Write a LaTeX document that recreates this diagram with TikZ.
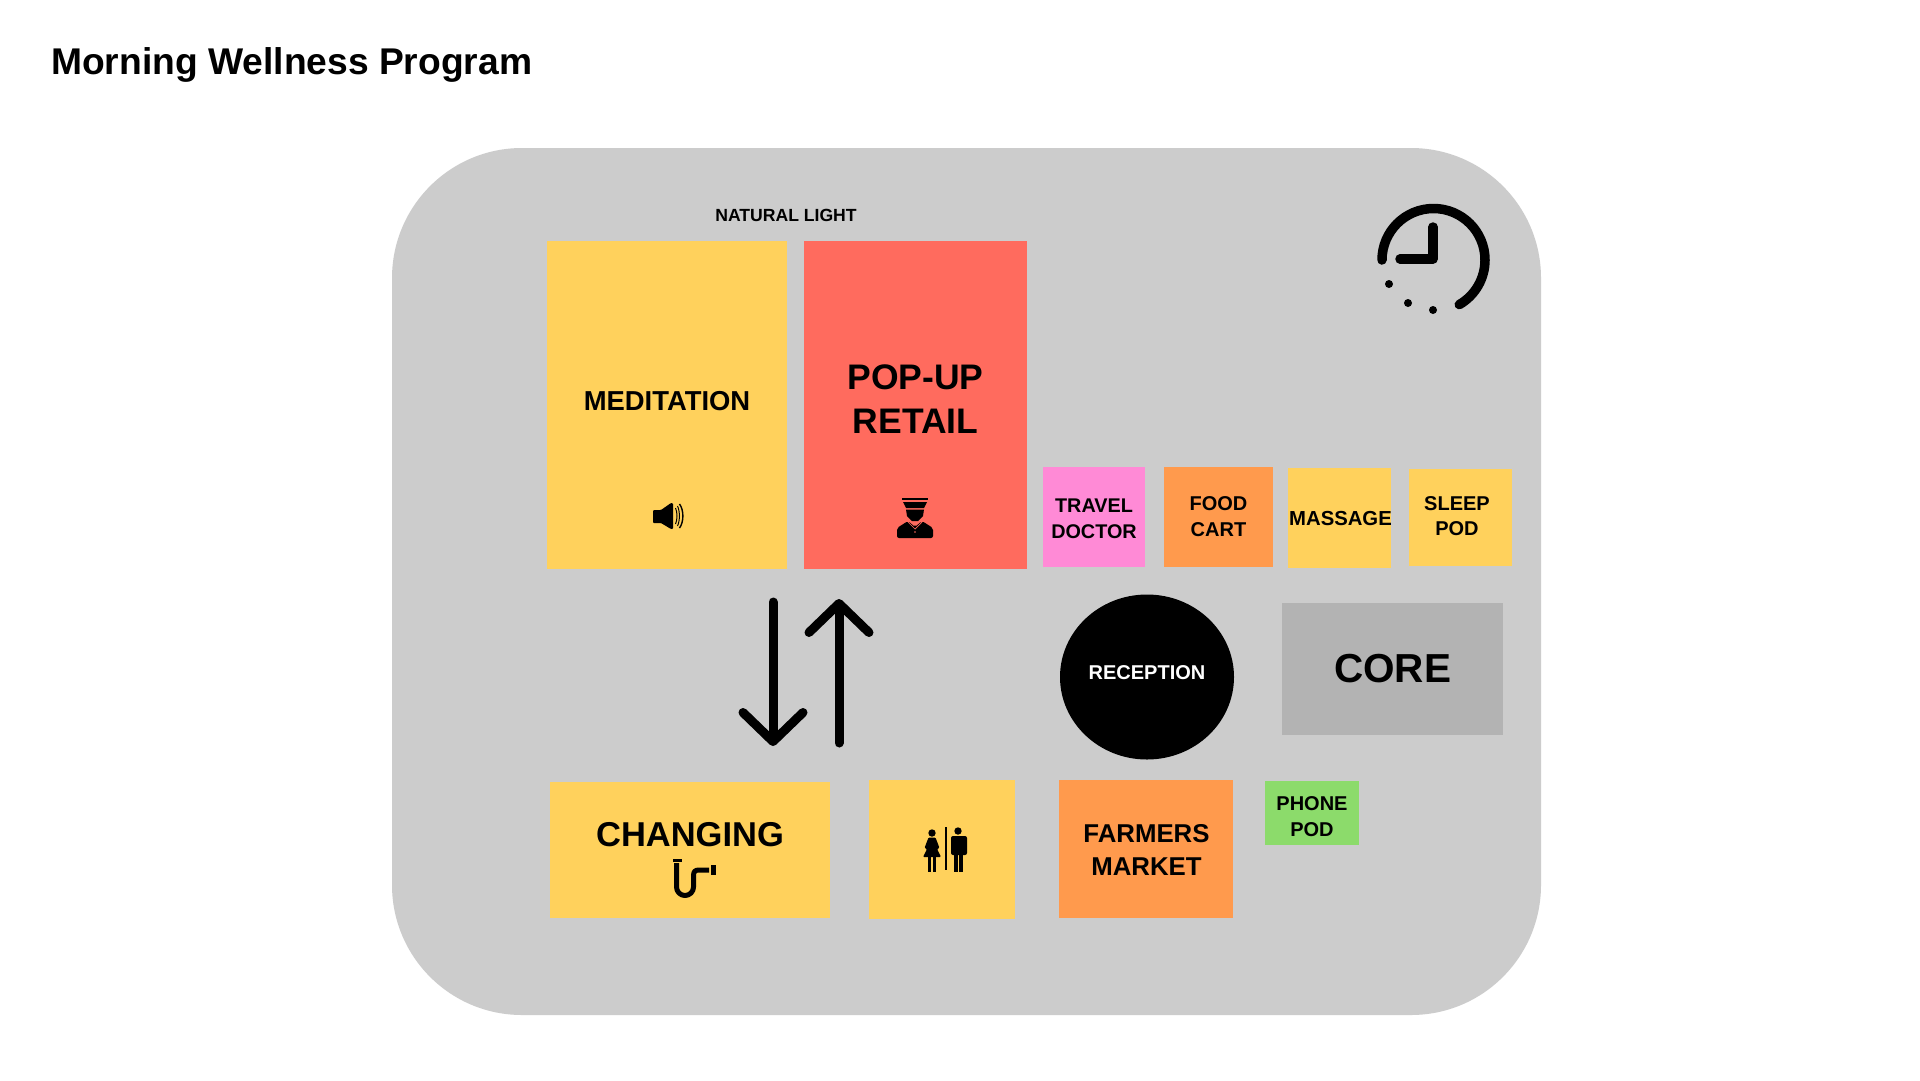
\documentclass[tikz,border=0pt]{standalone}
\usepackage{fontspec}
\setmainfont{Liberation Sans}
\usepackage{tikz}
\usetikzlibrary{arrows.meta,shapes.geometric}

\definecolor{panelgray}{HTML}{CCCCCC}
\definecolor{coregray}{HTML}{B3B3B3}
\definecolor{roomyellow}{HTML}{FFD15C}
\definecolor{roomred}{HTML}{FF6B5E}
\definecolor{roompink}{HTML}{FF8AD6}
\definecolor{roomorange}{HTML}{FF9A4D}
\definecolor{roomgreen}{HTML}{8CDB6B}

\begin{document}
\begin{tikzpicture}[
  x=1pt, y=-1pt,
  room/.style={rectangle, inner sep=0pt, align=center, text=black},
  lbl/.style={inner sep=0pt, align=center, font=\bfseries\fontsize{#1}{#1}\selectfont},
  lbl/.default=20,
  flow/.style={line width=9pt, line cap=round, -{Straight Barb[round, length=29pt, width=60pt]}},
  clockline/.style={line width=9.5pt, line cap=round, line join=round},
  pipeline/.style={line width=5pt, line join=round}
]
\path[fill=white, use as bounding box] (0,0) rectangle (1920,1080);

%% ---- title and floor ----
\node[lbl=37.2, anchor=base west] (title) at (51,74) {Morning Wellness Program};
\node[fill=panelgray, rectangle, rounded corners=130pt, minimum width=1149pt, minimum height=867pt] (floor) at (966.5,581.5) {};
\node[lbl=17.6] (light) at (786,215) {NATURAL LIGHT};

%% ---- rooms, top row ----
\node[room, fill=roomyellow, minimum width=240pt, minimum height=328pt] (meditation) at (667,405) {};
\node[lbl=27.4] at (667,401) {MEDITATION};
\node[room, fill=roomred, minimum width=223pt, minimum height=328pt] (retail) at (915.5,405) {};
\node[lbl, font=\bfseries\fontsize{35.5}{44}\selectfont] at (915.5,399) {POP-UP\\RETAIL};

%% ---- small rooms ----
\node[room, fill=roompink, minimum width=102pt, minimum height=100pt] (doctor) at (1094,517) {};
\node[lbl, font=\bfseries\fontsize{19.8}{26}\selectfont] at (1094,518.5) {TRAVEL\\DOCTOR};
\node[room, fill=roomorange, minimum width=109pt, minimum height=100pt, font=\bfseries\fontsize{20}{26}\selectfont] (cart) at (1218.5,517) {FOOD\\CART};
\node[room, fill=roomyellow, minimum width=103pt, minimum height=100pt] (massage) at (1339.5,518) {};
\node[lbl=20.3] at (1340.5,519) {MASSAGE};
\node[room, fill=roomyellow, minimum width=103pt, minimum height=97pt] (sleep) at (1460.5,517.5) {};
\node[lbl, font=\bfseries\fontsize{20}{25}\selectfont] at (1457,516) {SLEEP\\POD};

%% ---- middle row ----
\node[ellipse, fill=black, inner sep=0pt, minimum width=174pt, minimum height=165pt] (reception) at (1147,677) {};
\node[lbl=20, text=white] at (1147,673) {RECEPTION};
\node[room, fill=coregray, minimum width=221pt, minimum height=132pt, font=\bfseries\fontsize{40.5}{40.5}\selectfont] (core) at (1392.5,669) {CORE};

%% ---- bottom row ----
\node[room, fill=roomyellow, minimum width=280pt, minimum height=136pt] (changing) at (690,850) {};
\node[lbl=34.5] at (690,835) {CHANGING};
\node[room, fill=roomyellow, minimum width=146pt, minimum height=139pt] (toilets) at (941.5,849.5) {};
\node[room, fill=roomorange, minimum width=174pt, minimum height=138pt] (market) at (1146,849) {};
\node[lbl, font=\bfseries\fontsize{25.8}{33}\selectfont] at (1146.5,850) {FARMERS\\MARKET};
\node[room, fill=roomgreen, minimum width=94pt, minimum height=64pt] (phone) at (1312,813) {};
\node[lbl, font=\bfseries\fontsize{20}{26}\selectfont] at (1312,817) {PHONE\\POD};

%% ---- circulation arrows ----
\coordinate (downtop) at (773,602);
\coordinate (downtip) at (773,746);
\coordinate (uptip) at (839,599);
\coordinate (upend) at (839,743);
\draw[flow] (downtop) -- (downtip);
\draw[flow] (upend) -- (uptip);

%% ---- clock ----
\draw[clockline] (1382,260) arc[start angle=180, end angle=-60, radius=51.5pt];
\draw[clockline] (1433,227) -- (1433,259) -- (1400,259);
\fill (1389,284) circle[radius=4pt];
\fill (1408,303) circle[radius=4pt];
\fill (1433,310) circle[radius=4pt];

%% ---- speaker icon ----
\fill[rounded corners=1pt] (653,510) -- (661,510) -- (671,503) -- (673,503) -- (673,529) -- (671,529) -- (661,523) -- (653,523) -- cycle;
\draw[line width=1pt] (675.5,508) .. controls (677.5,512) and (677.5,520) .. (675.5,524);
\draw[line width=1pt] (677.5,506) .. controls (680,511) and (680,521) .. (677.5,526);
\draw[line width=1.4pt] (679.5,504) .. controls (684,510) and (684,522) .. (679.5,528);

%% ---- officer icon ----
\fill (902,498) rectangle (928,500);
\fill (903,502) -- (927,502) -- (924,508) -- (906,508) -- cycle;
\fill (906,509.5) -- (924,509.5) -- (923,516) -- (918,521) -- (912,521) -- (907,516) -- cycle;
\fill[rounded corners=2pt] (897,538) -- (897,528) -- (908,521) -- (915,527) -- (922,521) -- (933,528) -- (933,538) -- cycle;
\draw[roomred, line width=0.7pt] (908,522) -- (915,529) -- (922,522);
\fill[roomred] (915,532) circle[radius=0.8pt];

%% ---- pipe icon ----
\fill (673,859) rectangle (682,862);
\draw[pipeline] (676.5,863) -- (676.5,887) arc[start angle=180, end angle=360, radius=8.5pt] -- (693.5,876) .. controls (693.5,871.5) and (695,870) .. (699,870) -- (709,870);
\fill (711,865) rectangle (716,875);

%% ---- toilet icon ----
\fill (932,833) circle[radius=3.7pt];
\fill[rounded corners=1pt] (928.5,837.5) -- (935.5,837.5) -- (939.5,848) -- (937,849) -- (941,857) -- (923,857) -- (927,849) -- (924.5,848) -- cycle;
\fill (928,856) rectangle (931,872);
\fill (933,856) rectangle (936,872);
\fill (944.5,827) rectangle (947,870);
\fill (958,831) circle[radius=3.7pt];
\fill[rounded corners=2pt] (951,836) rectangle (967,855);
\fill (953.5,850) rectangle (957.5,872);
\fill (959,850) rectangle (963,872);

\end{tikzpicture}
\end{document}
